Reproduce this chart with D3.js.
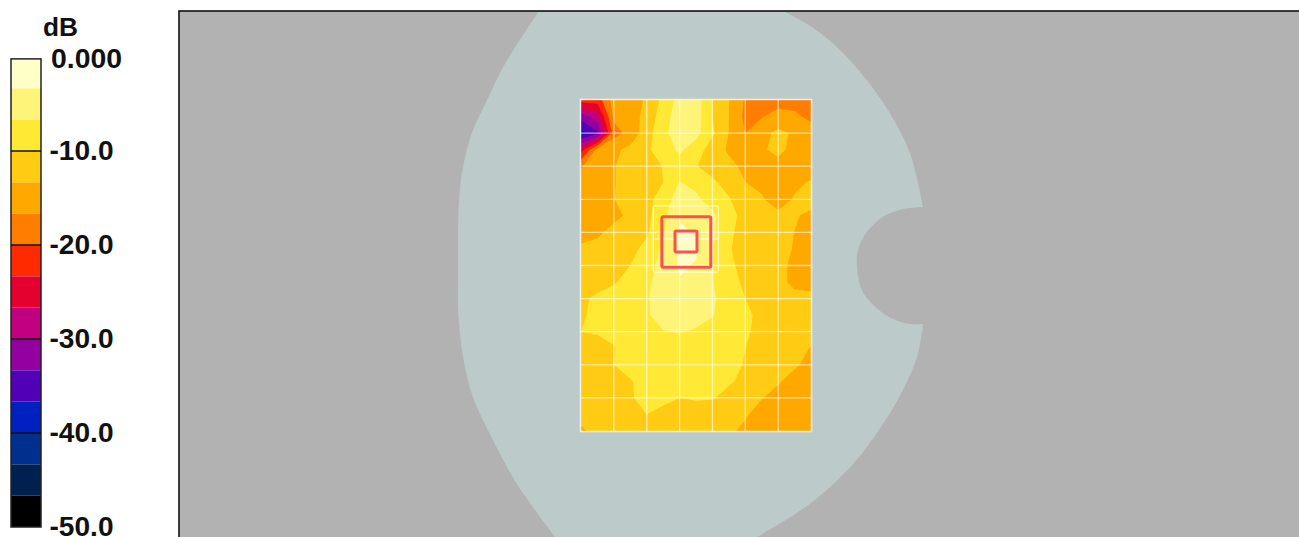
<!DOCTYPE html>
<html><head><meta charset="utf-8">
<script src="https://cdn.jsdelivr.net/npm/d3@7/dist/d3.min.js"></script>
<style>html,body{margin:0;padding:0;background:#fff;overflow:hidden}svg{display:block}text{font-family:"Liberation Sans",Arial,sans-serif;font-weight:bold;fill:#111}</style>
</head><body><div id="c"></div>
<script>
// Field in dB read every 5 mm: rows top to bottom, columns left to right
const fieldRows = [
 [-22,-22,-15,-14.5,-13,-9,-5.5,-5,-10,-13.3,-17,-18,-18,-18,-18],
 [-32,-28,-16,-14.5,-12.5,-8,-5,-5,-10,-13.3,-17.5,-16.9,-15.5,-16,-17.5],
 [-38,-34,-18,-15.5,-11.5,-7.5,-5,-5.5,-9.5,-13.4,-16.7,-14.5,-12.5,-13.8,-15],
 [-25,-15.5,-14,-12.5,-10.5,-8.5,-6,-8.5,-11.5,-13.8,-15,-14,-12,-15,-15],
 [-17,-14.5,-13.5,-12,-11,-9.9,-8,-9.9,-11,-12.5,-14,-15,-15,-15,-15],
 [-15,-15,-13.5,-12,-11,-10,-6.5,-7.5,-9.5,-11,-13.3,-14,-15,-14,-13],
 [-15,-14.5,-13.4,-12,-11,-8.5,-5,-6,-8,-9.8,-11.5,-13,-15,-13,-11.5],
 [-15,-14.5,-14,-12.8,-11,-7.5,-3.5,-4,-6,-9,-11,-12,-12.5,-12.8,-14.5],
 [-14,-13.8,-12.5,-12,-10.5,-7,-3,-3.5,-6,-9.5,-11,-11.5,-11.5,-13.4,-14.5],
 [-13,-12.5,-12,-11,-9,-6,-3,-3,-6.5,-9.8,-11,-11.5,-12,-13.6,-14.5],
 [-11.5,-11.5,-11,-10,-8,-5.5,-3,-3.5,-6.5,-9.5,-10.8,-11.5,-12.5,-14,-14.5],
 [-11,-11,-10.3,-8.8,-7.3,-5,-3.5,-5,-6.5,-9,-10.5,-11.5,-12.5,-14,-15],
 [-10.5,-9.5,-8.5,-8,-7,-5,-5,-5,-6.2,-8.5,-10,-11,-13.3,-12.5,-12],
 [-10.5,-9,-8.5,-8,-7,-5.5,-5.5,-5.5,-6.5,-8,-9.6,-10.5,-11,-11,-11],
 [-10,-9.8,-9.6,-8.5,-7.5,-6.8,-6.5,-7,-8,-8.5,-9.5,-11,-11.5,-11.5,-12],
 [-11,-10.8,-10.1,-9,-8.5,-8,-8,-8,-8,-8.5,-10,-11,-11.5,-12,-13.5],
 [-11.5,-11,-10,-9,-8.5,-8,-8,-8,-8.5,-9,-10.2,-11,-11.5,-12.9,-14.3],
 [-11.5,-11.5,-11,-10.2,-9,-8.5,-8.5,-8.5,-9,-9.6,-10.8,-11.5,-13,-14.5,-15],
 [-11.5,-11.5,-11,-10.3,-9,-9.3,-10,-9.8,-9.8,-11,-12,-13.2,-14.5,-15,-15],
 [-12,-11.5,-11.2,-10.8,-10,-10.8,-11,-11,-11.5,-12,-13,-14.5,-15,-15,-15],
 [-14,-12,-12,-11.5,-11.5,-12,-12,-12,-12,-12.8,-14,-15,-15,-15,-15]
];
const gridStep = 10;
// Phantom outline in mm relative to the scan area origin, in four runs
const leftX = [-12.8,-18.6,-23.7,-28.6,-33.2,-35.9,-37.1,-37.4,-37.4,-37.4,-35.9,-32.9,-26.8,-19.5,-7.9];
const leftY = [-26.9,-18.1,-10,0,10,20.2,30.2,40.2,51.4,63.4,77.6,89.7,102.7,116,132];
const lowerX = [53.6,69.7,82.8,91.9,98,102.3,104.1];
const lowerY = [132,122,110,97.9,87.6,77.6,67.7];
const notchX = [104.1,100.1,95,88.9,85.5,84,84.3,87,91.9,98,104.1];
const notchY = [67.7,67.7,66.2,61.9,57.4,50.5,45.3,39.9,35.3,32.9,32.3];
const upperX = [104.1,100.1,94,87,78.8,70.6,62.1];
const upperY = [32.3,16,3.9,-6,-15.1,-21.8,-26.6];
const bandEdges = [-0.2,-3.333,-6.667,-10,-13.333,-16.667,-20,-23.333,-26.667,-30,-33.333,-36.667,-40,-43.333,-46.667,-50];
const bandColors = ["#ffffc8","#fff47a","#ffe935","#ffcb13","#ffa900","#ff7d00","#ff2a00","#e4002f","#c0007e","#9300a0","#5200b8","#0020c0","#00308e","#002050","#000000"];
const legendTicks = [0,-10,-20,-30,-40,-50];
const legendLabels = ["0.000","-10.0","-20.0","-30.0","-40.0","-50.0"];
const unitLabel = "dB";
const outerSquare = [24.6,35.3,39.5,50.5];
const innerSquare = [28.6,39.6,35.3,45.9];
const whiteSquare = [22,32,41.8,52];
const whiteLineY = [42];

const W=1299,H=537;
const svg=d3.select("#c").append("svg").attr("width",W).attr("height",H).attr("viewBox",[0,0,W,H]);

svg.append("rect").attr("x",179).attr("y",11).attr("width",W-179+4).attr("height",H).attr("fill","#b2b2b2").attr("stroke","#111").attr("stroke-width",1.6);

const x=d3.scaleLinear().domain([0,70]).range([581,811]);
const y=d3.scaleLinear().domain([0,100]).range([100,431]);

svg.append("clipPath").attr("id","panel").append("rect").attr("x",180).attr("y",12).attr("width",W).attr("height",H);
const run=(xs,ys)=>d3.line().x(i=>x(xs[i])).y(i=>y(ys[i])).curve(d3.curveCatmullRom.alpha(0.5))(d3.range(xs.length));
const outlineD=run(leftX,leftY)+run(lowerX,lowerY).replace("M","L")+run(notchX,notchY).replace("M","L")+run(upperX,upperY).replace("M","L")+"Z";
svg.append("path").attr("clip-path","url(#panel)").attr("d",outlineD).attr("fill","#bdcaca");

// map
const nx=fieldRows[0].length, ny=fieldRows.length;
const flat=fieldRows.flat();
const levels=bandEdges.slice(1,-1).reverse();
const contours=d3.contours().size([nx,ny]).smooth(true).thresholds(levels)(flat);
const colorOf=t=>bandColors[bandEdges.indexOf(t)-1];
svg.append("clipPath").attr("id","map").append("rect").attr("x",x(0)).attr("y",y(0)).attr("width",x(70)-x(0)).attr("height",y(100)-y(0));
const gx=d3.scaleLinear().domain([0.5,nx-0.5]).range([x(0),x(70)]);
const gy=d3.scaleLinear().domain([0.5,ny-0.5]).range([y(0),y(100)]);
const proj=d3.geoTransform({point(a,b){this.stream.point(gx(a),gy(b));}});
const geo=d3.geoPath(proj);
const mapG=svg.append("g").attr("clip-path","url(#map)");
mapG.append("rect").attr("x",x(0)).attr("y",y(0)).attr("width",x(70)-x(0)).attr("height",y(100)-y(0)).attr("fill",bandColors[14]);
mapG.selectAll("path").data(contours).join("path").attr("d",geo).attr("fill",d=>colorOf(d.value));

// grid
const gl=svg.append("g").attr("stroke","#fff").attr("stroke-opacity",0.62).attr("stroke-width",1.3);
gl.selectAll(".v").data(d3.range(gridStep,70,gridStep)).join("line").attr("class","v").attr("x1",d=>x(d)).attr("x2",d=>x(d)).attr("y1",y(0)).attr("y2",y(100));
gl.selectAll(".h").data(d3.range(gridStep,100,gridStep)).join("line").attr("class","h").attr("y1",d=>y(d)).attr("y2",d=>y(d)).attr("x1",x(0)).attr("x2",x(70));
svg.append("rect").attr("x",x(0)-0.5).attr("y",y(0)-0.5).attr("width",x(70)-x(0)+1).attr("height",y(100)-y(0)+1).attr("fill","none").attr("stroke","#fff").attr("stroke-opacity",0.75).attr("stroke-width",1.5);
const sq=(s,col,w,op)=>svg.append("rect").attr("x",x(s[0])).attr("y",y(s[1])).attr("width",x(s[2])-x(s[0])).attr("height",y(s[3])-y(s[1])).attr("rx",1.5).attr("fill","none").attr("stroke",col).attr("stroke-width",w).attr("stroke-opacity",op);
sq(whiteSquare,"#fff",1.3,0.65);
svg.append("g").selectAll("line").data(whiteLineY).join("line").attr("x1",x(whiteSquare[0])).attr("x2",x(whiteSquare[2])).attr("y1",d=>y(d)).attr("y2",d=>y(d)).attr("stroke","#fff").attr("stroke-opacity",0.65).attr("stroke-width",1.3);
sq(outerSquare,"#ff5050",3,1);
sq(innerSquare,"#ff5050",3,1);

// legend
const ly=d3.scaleLinear().domain([0,-50]).range([57,527]);
const leg=svg.append("g");
leg.selectAll("rect").data(bandColors).join("rect").attr("x",11).attr("width",30)
  .attr("y",(d,i)=>ly(bandEdges[i])).attr("height",(d,i)=>ly(bandEdges[i+1])-ly(bandEdges[i])).attr("fill",d=>d);
leg.append("rect").attr("x",11).attr("y",ly(-0.2)).attr("width",30).attr("height",ly(-50)-ly(-0.2)).attr("fill","none").attr("stroke","#222").attr("stroke-width",1.5);
leg.selectAll("line").data(legendTicks.slice(1,-1)).join("line").attr("x1",11).attr("x2",41).attr("y1",d=>ly(d)).attr("y2",d=>ly(d)).attr("stroke","#111").attr("stroke-width",1.5);
leg.selectAll("text.l").data(legendTicks).join("text").attr("class","l")
  .attr("x",(d,i)=>i?49.5:51).attr("y",(d,i)=>ly(d)+(i?9.3:11)).attr("font-size",27).attr("textLength",(d,i)=>i?64:71).attr("lengthAdjust","spacingAndGlyphs").text((d,i)=>legendLabels[i]);
svg.append("text").attr("x",43).attr("y",36).attr("font-size",26).attr("textLength",35).attr("lengthAdjust","spacingAndGlyphs").text(unitLabel);
</script></body></html>
